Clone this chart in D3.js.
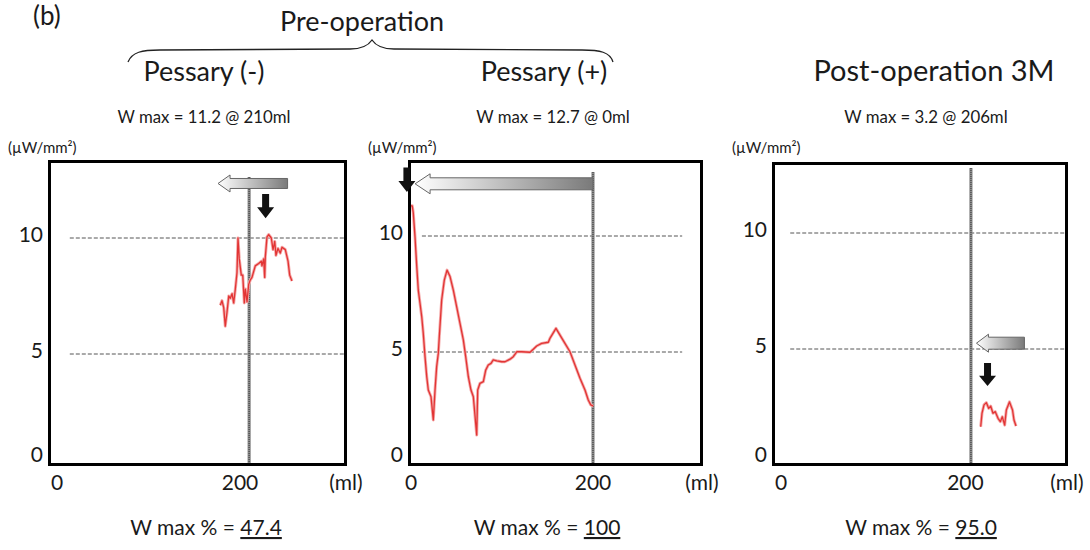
<!DOCTYPE html>
<html><head><meta charset="utf-8">
<script src="https://cdn.jsdelivr.net/npm/d3@7"></script>
<style>
html,body{margin:0;padding:0;background:#fff;}
text{font-family:Lato,"Open Sans",sans-serif;fill:#1a1a1a;}
</style></head>
<body>
<svg id="chart" width="1090" height="550"></svg>
<script>
// ---------- data ----------
const groupTitle = "Pre-operation";
const panelTitles = ["Pessary (-)", "Pessary (+)", "Post-operation 3M"];
const wmaxValues = [11.2, 12.7, 3.2];
const wmaxVolumes = [210, 0, 206];
const wmaxPercent = ["47.4", "100", "95.0"];
const markerVolumes = [210, 200, 206];
const yTicks = [0, 5, 10];
const xTicks = [0, 200];
const gridValues = [5, 10];
const yUnit = "(\u00b5W/mm\u00b2)";
const xUnit = "(ml)";

// Pessary (-) : volume (ml), W (µW/mm²)
const p1Vol = [178.5,180.3,182.2,183.9,185.8,187.7,189.4,191.3,193.1,194.9,196.7,197.8,199.2,201.4,203,204.7,205.8,207.7,209.5,211.3,213.1,216.7,220.4,223.3,224,225.9,227,227.7,229.5,231.4,234.2,236.1,238,239.3,241.5,244,245.9,249.5,252.5,254.3,256.8];
const p1W   = [7.1,7.3,7.0,6.2,6.8,7.5,7.4,7.6,7.2,7.8,8.5,10.0,9.1,8.4,8.4,7.2,7.8,7.25,8.0,8.2,8.3,8.8,8.9,9.0,8.8,9.1,8.3,9.2,10.05,10.15,10.0,9.5,9.85,9.25,9.55,9.35,9.6,9.5,9.0,8.4,8.15];
// Pessary (+)
const p2Vol = [0,1.4,2.5,4.4,6.3,8.0,9.9,11.8,13.5,15.4,17.3,19.0,22.0,24.5,26.4,28.2,30.0,31.1,33.7,36.6,39.6,42.9,46.5,50.2,53.8,57.5,60.1,63.0,65.9,68.5,72.2,73.3,75.8,79.5,82.1,84.9,87.9,90.4,94.2,99.7,103.3,108.8,112.4,116.2,121.6,130.8,134.4,138.1,143.6,150.9,152.7,159.3,163.7,169.2,174.7,180.2,185.7,191.2,194.8,197.5,200.3];
const p2W   = [11.3,11.3,11.0,9.97,8.7,7.67,7.1,6.52,5.8,4.8,3.94,3.36,3.07,2.07,3.36,4.37,4.94,5.66,7.24,8.1,8.53,8.25,7.67,6.95,6.24,5.52,4.8,3.94,3.36,3.07,1.42,3.36,3.65,3.72,4.22,4.44,4.51,4.66,4.62,4.58,4.58,4.69,4.8,5.01,5.01,4.99,5.12,5.26,5.37,5.42,5.59,6.02,5.73,5.37,5.01,4.44,3.87,3.36,2.93,2.72,2.67];
// Post-operation 3M
const p3Vol = [216.6,218,220.2,222.7,225.3,227.4,229.9,232.4,235.4,237.9,240,242.6,244.4,247.8,251.1,252.7,254.9];
const p3W   = [1.65,2.23,2.59,2.69,2.44,2.54,2.23,2.3,2.01,1.87,2.08,1.72,2.37,2.72,2.37,1.94,1.68];

const seriesVol = [p1Vol, p2Vol, p3Vol];
const seriesW = [p1W, p2W, p3W];

// ---------- layout ----------
const layout = [
  {fx0:48, fy0:160, fx1:347, fy1:466, x0:57,  x200:240,   y0:470, grid:[14,315], vTop:177, titleX:204, titleFs:27, wX:204, botX:206,
   garrow:{tip:176, tail:252, v:12.35, bodyH:10, headH:17, headL:12}, darrow:{vol:228, top:11.9, bot:10.85}},
  {fx0:408, fy0:160, fx1:703, fy1:466, x0:411, x200:593,  y0:468, grid:[12,298], vTop:172, titleX:544, titleFs:27, wX:553, botX:547,
   garrow:{tip:4.5, tail:200, v:12.25, bodyH:12, headH:20, headL:15}, darrow:{vol:-4.5, top:12.95, bot:11.9}},
  {fx0:772, fy0:162, fx1:1068, fy1:466, x0:781, x200:965.4, y0:465, grid:[10,310], vTop:168, titleX:934, titleFs:29, wX:926, botX:921,
   garrow:{tip:212, tail:264, v:5.25, bodyH:12, headH:18, headL:12}, darrow:{vol:224, top:4.4, bot:3.4}}
];

const svg = d3.select("#chart");
const defs = svg.append("defs");
const grad = defs.append("linearGradient").attr("id","garr").attr("x1","0%").attr("x2","100%");
grad.append("stop").attr("offset","0%").attr("stop-color","#ffffff");
grad.append("stop").attr("offset","100%").attr("stop-color","#7a7a7a");

// header
svg.append("text").attr("x",33).attr("y",25).attr("font-size",26).text("(b)");
svg.append("text").attr("x",362).attr("y",31).attr("text-anchor","middle").attr("font-size",27).text(groupTitle);
svg.append("path")
  .attr("d","M128,62 C132,52 142,50 160,50 L350,49 C362,49 368,46 372,40 C376,46 382,49 394,49 L582,50 C600,50 610,52 613,62")
  .attr("fill","none").attr("stroke","#222").attr("stroke-width",1.3);

layout.forEach((L, i) => {
  const x = d3.scaleLinear().domain([0,200]).range([L.x0, L.x200]);
  const y = d3.scaleLinear().domain([0,10]).range([L.y0, L.y0 - 232]);
  const g = svg.append("g");

  // titles
  g.append("text").attr("x",L.titleX).attr("y",81).attr("text-anchor","middle").attr("font-size",L.titleFs).text(panelTitles[i]);
  g.append("text").attr("x",L.wX).attr("y",123).attr("text-anchor","middle").attr("font-size",16.8)
    .text(`W max = ${wmaxValues[i]} @ ${wmaxVolumes[i]}ml`);
  g.append("text").attr("x",L.fx0-40).attr("y",153).attr("font-size",15).text(yUnit);

  // gridlines
  g.selectAll(".grid").data(gridValues).enter().append("line")
    .attr("x1",x(L.grid[0])).attr("x2",x(L.grid[1]))
    .attr("y1",d=>y(d)).attr("y2",d=>y(d))
    .attr("stroke","#555").attr("stroke-width",1).attr("stroke-dasharray","4,2");

  // vertical marker line
  const mx = x(markerVolumes[i]);
  g.append("line").attr("x1",mx).attr("x2",mx).attr("y1",L.vTop).attr("y2",L.fy1)
    .attr("stroke","#8c8c8c").attr("stroke-width",3.2);
  g.append("line").attr("x1",mx).attr("x2",mx).attr("y1",L.vTop).attr("y2",L.fy1)
    .attr("stroke","#555").attr("stroke-width",1.6).attr("stroke-dasharray","1,1");

  // curve
  const pts = seriesVol[i].map((v,k)=>[v, seriesW[i][k]]);
  g.append("path").datum(pts)
    .attr("d", d3.line().x(d=>x(d[0])).y(d=>y(d[1])))
    .attr("fill","none").attr("stroke","#f4aaaa").attr("stroke-width",3).attr("stroke-linejoin","round");
  g.append("path").datum(pts)
    .attr("d", d3.line().x(d=>x(d[0])).y(d=>y(d[1])))
    .attr("fill","none").attr("stroke","#e23434").attr("stroke-width",1.3).attr("stroke-linejoin","round");

  // frame
  g.append("rect").attr("x",L.fx0+1.5).attr("y",L.fy0+1.5)
    .attr("width",L.fx1-L.fx0-3).attr("height",L.fy1-L.fy0-3)
    .attr("fill","none").attr("stroke","#000").attr("stroke-width",3);

  // y tick labels
  g.selectAll(".yt").data(yTicks).enter().append("text")
    .attr("x",L.fx0-5).attr("y",d=>Math.min(y(d)-3, L.fy1-11)).attr("dy","0.35em")
    .attr("text-anchor","end").attr("font-size",21).text(d=>d);
  // x tick labels
  g.selectAll(".xt").data(xTicks).enter().append("text")
    .attr("x",d=>x(d)).attr("y",483).attr("dy","0.35em")
    .attr("text-anchor","middle").attr("font-size",21).text(d=>d);
  g.append("text").attr("x",L.fx1-1).attr("y",483).attr("dy","0.35em")
    .attr("text-anchor","middle").attr("font-size",21).text(xUnit);

  // gradient arrow (pointing left)
  const A = L.garrow;
  const tx = x(A.tip), tl = x(A.tail), cy = y(A.v);
  const hb = A.bodyH/2, hh = A.headH/2;
  g.append("path")
    .attr("d",`M${tx},${cy} L${tx+A.headL},${cy-hh} L${tx+A.headL},${cy-hb} L${tl},${cy-hb} L${tl},${cy+hb} L${tx+A.headL},${cy+hb} L${tx+A.headL},${cy+hh} Z`)
    .attr("fill","url(#garr)").attr("stroke","#666").attr("stroke-width",1);

  // black down arrow
  const D = L.darrow;
  const dx = x(D.vol), dt = y(D.top), db = y(D.bot);
  const hl = (db-dt)*0.45;
  g.append("path")
    .attr("d",`M${dx-3.5},${dt} L${dx+3.5},${dt} L${dx+3.5},${db-hl} L${dx+8.5},${db-hl} L${dx},${db} L${dx-8.5},${db-hl} L${dx-3.5},${db-hl} Z`)
    .attr("fill","#111");

  // bottom text
  const bt = g.append("text").attr("x",L.botX).attr("y",535).attr("text-anchor","middle").attr("font-size",21);
  bt.append("tspan").text("W max % = ");
  bt.append("tspan").attr("text-decoration","underline").style("text-decoration","underline").text(wmaxPercent[i]);
});
</script>
</body></html>
